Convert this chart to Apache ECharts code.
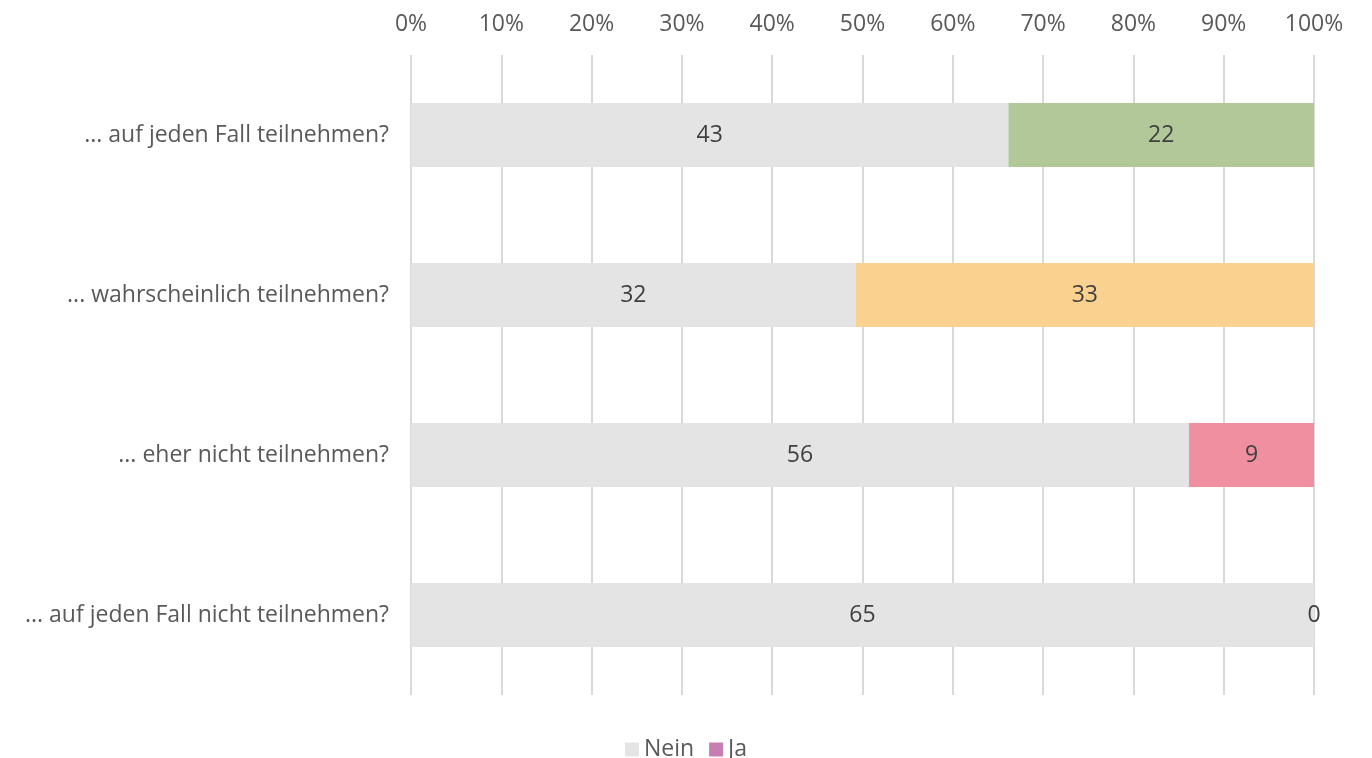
<!DOCTYPE html>
<html>
<head>
<meta charset="utf-8">
<script src="https://cdn.jsdelivr.net/npm/echarts@6/dist/echarts.min.js"></script>
<style>html,body{margin:0;padding:0;background:#fff}#c{width:1372px;height:758px}</style>
</head>
<body>
<div id="c"></div>
<script>
const categories = ['... auf jeden Fall teilnehmen?', '... wahrscheinlich teilnehmen?', '... eher nicht teilnehmen?', '... auf jeden Fall nicht teilnehmen?'];
const neinValues = [43, 32, 56, 65];
const jaValues = [22, 33, 9, 0];
const jaColors = ['#b3c898', '#fbd190', '#f08f9f', '#c77fb1'];
const xTicks = [0, 10, 20, 30, 40, 50, 60, 70, 80, 90, 100];

const totals = neinValues.map((v, i) => v + jaValues[i]);
const pct = (arr) => arr.map((v, i) => ({ value: v / totals[i] * 100, raw: v }));

const font = '"Open Sans", Lato, sans-serif';
const fs = 23;
const chart = echarts.init(document.getElementById('c'));
chart.setOption({
  animation: false,
  textStyle: { fontFamily: font },
  grid: { left: 411, right: 58, top: 55, bottom: 63, containLabel: false },
  legend: {
    top: 733, left: 'center', itemWidth: 14, itemHeight: 14, itemGap: 15,
    icon: 'rect',
    textStyle: { fontSize: fs, color: '#595959', fontFamily: font },
    data: ['Nein', 'Ja']
  },
  xAxis: {
    type: 'value', position: 'top', min: xTicks[0], max: xTicks[xTicks.length - 1], interval: 10,
    axisLine: { show: false }, axisTick: { show: false },
    axisLabel: { formatter: v => v + '%', fontSize: fs, color: '#595959', margin: 19 },
    splitLine: { show: true, lineStyle: { color: '#d9d9d9', width: 2 } }
  },
  yAxis: {
    type: 'category', inverse: true, data: categories,
    axisLine: { show: false }, axisTick: { show: false },
    axisLabel: { fontSize: fs, color: '#595959', margin: 22 }
  },
  series: [
    {
      name: 'Nein', type: 'bar', stack: 'a', barWidth: 64,
      itemStyle: { color: '#e4e4e4' },
      label: { show: true, position: 'inside', fontSize: fs, color: '#404040', formatter: p => p.data.raw },
      data: pct(neinValues)
    },
    {
      name: 'Ja', type: 'bar', stack: 'a', barWidth: 64,
      itemStyle: { color: '#c77fb1' },
      label: { show: true, position: 'inside', fontSize: fs, color: '#404040', formatter: p => p.data.raw },
      data: pct(jaValues).map((d, i) => Object.assign(d, { itemStyle: { color: jaColors[i] } }))
    }
  ]
});
</script>
</body>
</html>
